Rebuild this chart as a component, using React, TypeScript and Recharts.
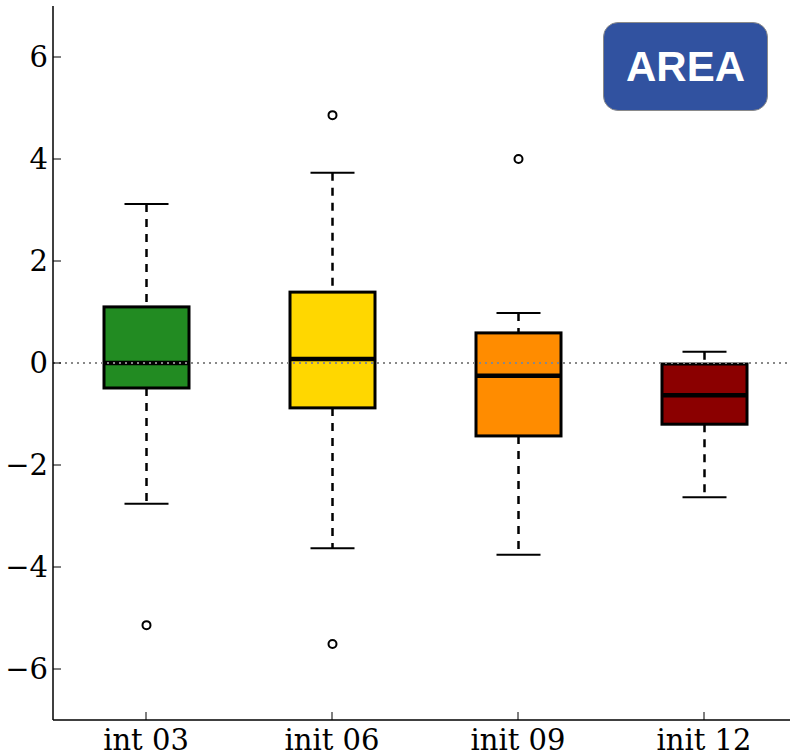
import { ComposedChart, Bar, XAxis, YAxis, ReferenceLine } from "recharts"

// box statistics, one entry per initialisation
const categories = ["int 03", "init 06", "init 09", "init 12"]
const whiskerLow = [-2.76, -3.63, -3.76, -2.63]
const q1 = [-0.49, -0.88, -1.43, -1.2]
const median = [0, 0.08, -0.25, -0.63]
const q3 = [1.1, 1.39, 0.59, -0.02]
const whiskerHigh = [3.12, 3.73, 0.98, 0.22]
const outliers = [[-5.14], [4.86, -5.51], [4.0], []]
const boxColors = ["#228b22", "#ffd700", "#ff8c00", "#8b0000"]
const yTicks = [-6, -4, -2, 0, 2, 4, 6]

const data = categories.map((name, i) => ({
  name,
  box: [q1[i], q3[i]],
  q1: q1[i],
  q3: q3[i],
  median: median[i],
  low: whiskerLow[i],
  high: whiskerHigh[i],
  fliers: outliers[i],
  color: boxColors[i],
}))

const serif = "'DejaVu Serif', serif"
const fmt = (v: number) => (v < 0 ? `\u2212${-v}` : `${v}`)

const BoxShape = (props: any) => {
  const { x, y, width, height, payload } = props
  const top = Math.min(y, y + height)
  const h = Math.abs(height)
  // pixels per unit, taken from the bar the library placed for [q1, q3]
  const k = h / (payload.q3 - payload.q1)
  const py = (v: number) => top + (payload.q3 - v) * k
  const cx = x + width / 2
  const cap = 22
  return (
    <g>
      <line x1={cx} x2={cx} y1={py(payload.high)} y2={top} stroke="#000" strokeWidth={2.5} strokeDasharray="8 7" />
      <line x1={cx} x2={cx} y1={top + h} y2={py(payload.low)} stroke="#000" strokeWidth={2.5} strokeDasharray="8 7" />
      <line x1={cx - cap} x2={cx + cap} y1={py(payload.high)} y2={py(payload.high)} stroke="#000" strokeWidth={2} />
      <line x1={cx - cap} x2={cx + cap} y1={py(payload.low)} y2={py(payload.low)} stroke="#000" strokeWidth={2} />
      <rect x={x} y={top} width={width} height={h} fill={payload.color} stroke="#000" strokeWidth={3} />
      <line x1={x} x2={x + width} y1={py(payload.median)} y2={py(payload.median)} stroke="#000" strokeWidth={4.5} />
      {payload.fliers.map((v: number, i: number) => (
        <circle key={i} cx={cx} cy={py(v)} r={4} fill="#fff" stroke="#000" strokeWidth={2} />
      ))}
    </g>
  )
}

const YTick = (props: any) => {
  const { x, y, payload } = props
  const axisX = x + 5
  return (
    <g>
      <line x1={axisX} x2={axisX + 8} y1={y} y2={y} stroke="#000" strokeWidth={1} />
      <text x={x} y={y} dy="0.36em" textAnchor="end" fontFamily={serif} fontSize={29} fill="#000">
        {fmt(payload.value)}
      </text>
    </g>
  )
}

const XTick = (props: any) => {
  const { x, y, payload } = props
  return (
    <g>
      <line x1={x} x2={x} y1={y} y2={y - 8} stroke="#000" strokeWidth={1} />
      <text x={x} y={y + 30} textAnchor="middle" fontFamily={serif} fontSize={29} fill="#000">
        {payload.value}
      </text>
    </g>
  )
}

const TopTick = (props: any) => {
  const { x, y } = props
  return <line x1={x} x2={x} y1={y} y2={y + 8} stroke="#000" strokeWidth={1} />
}

export default function App() {
  return (
    <div style={{ position: "absolute", left: 0, top: 0, width: 790, height: 756, overflow: "hidden", background: "#fff" }}>
      <ComposedChart width={800} height={756} data={data} margin={{ top: 6, right: 3, bottom: 0, left: 0 }}>
        <XAxis
          dataKey="name"
          height={36}
          tickSize={0}
          tickMargin={0}
          tickLine={false}
          tick={<XTick />}
          axisLine={{ stroke: "#000", strokeWidth: 1.5 }}
        />
        <XAxis
          xAxisId="top"
          orientation="top"
          dataKey="name"
          height={0}
          tickSize={0}
          tickMargin={0}
          tickLine={false}
          tick={<TopTick />}
          axisLine={{ stroke: "#000", strokeWidth: 1.5 }}
        />
        <YAxis
          type="number"
          domain={[-7, 7]}
          ticks={yTicks}
          width={53}
          tickSize={0}
          tickMargin={5}
          tickLine={false}
          tick={<YTick />}
          axisLine={{ stroke: "#000", strokeWidth: 1.5 }}
        />
        <ReferenceLine y={0} stroke="#888" strokeWidth={2} strokeDasharray="2 4" />
        <Bar dataKey="box" barSize={85} isAnimationActive={false} shape={(p: any) => <BoxShape {...p} />} />
      </ComposedChart>
      <div
        style={{
          position: "absolute",
          left: 603,
          top: 22,
          width: 165,
          height: 89,
          boxSizing: "border-box",
          background: "#3152a0",
          border: "1px solid #8a8a8a",
          borderRadius: 15,
          color: "#fff",
          fontFamily: "'Liberation Sans', Arial, sans-serif",
          fontWeight: "bold",
          fontSize: 42,
          display: "flex",
          alignItems: "center",
          justifyContent: "center",
        }}
      >
        AREA
      </div>
    </div>
  )
}
